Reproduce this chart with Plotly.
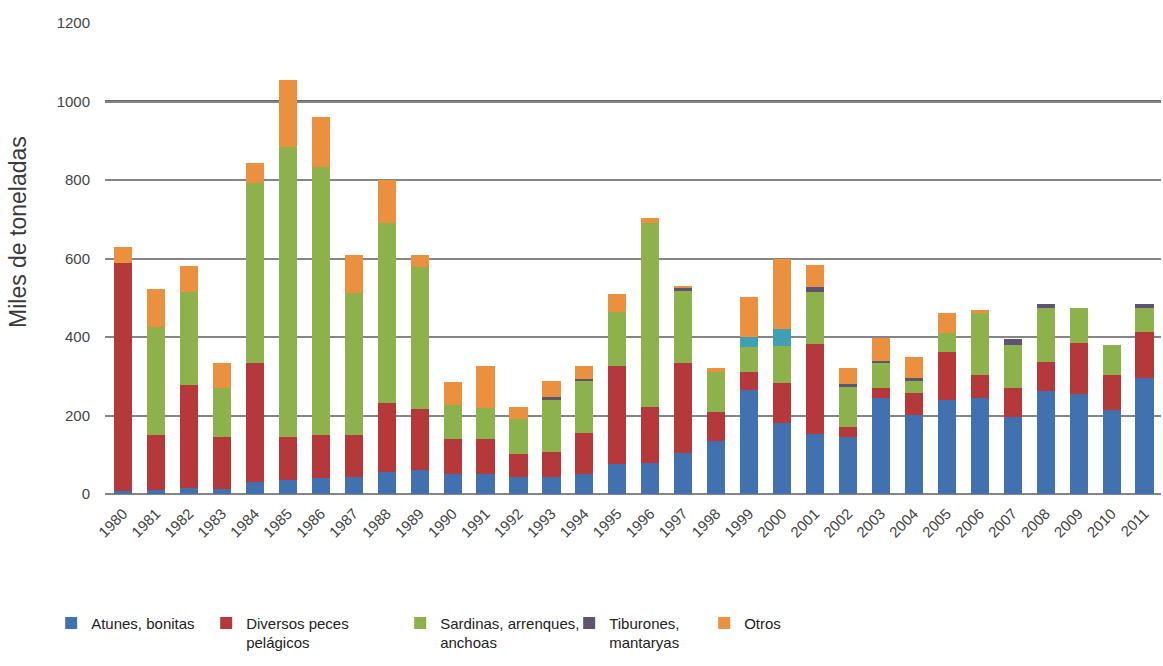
import plotly.graph_objects as go

years = [str(y) for y in range(1980, 2012)]

atunes = [8, 10, 15, 12, 30, 35, 40, 43, 55, 60,
          51, 51, 43, 43, 51, 77, 78, 105, 135, 265,
          182, 153, 145, 244, 201, 240, 244, 197, 262, 255, 214, 295]
diversos = [580, 140, 263, 134, 305, 111, 110, 107, 177, 156,
            89, 89, 59, 65, 104, 250, 144, 228, 75, 47,
            100, 229, 25, 25, 56, 122, 59, 72, 75, 130, 89, 118]
sardinas = [0, 275, 237, 123, 457, 739, 684, 361, 458, 363,
            88, 78, 90, 134, 133, 137, 468, 185, 102, 63,
            94, 133, 103, 65, 33, 48, 159, 111, 137, 89, 77, 61]
tiburones = [0, 0, 0, 0, 0, 0, 0, 0, 0, 0,
             0, 0, 0, 4, 4, 0, 0, 7, 0, 0,
             0, 12, 8, 6, 5, 0, 0, 15, 10, 0, 0, 10]
sin_clasificar = [0] * 19 + [25, 44] + [0] * 11
otros = [41, 97, 66, 64, 52, 170, 127, 98, 110, 30,
         58, 107, 30, 41, 35, 46, 13, 5, 9, 102,
         180, 56, 41, 57, 54, 50, 7, 0, 0, 0, 0, 0]

series = [
    ("Atunes, bonitas", atunes, "#4271B0", True, 110),
    ("Diversos peces<br>pelágicos", diversos, "#B5393B", True, 149),
    ("Sardinas, arrenques,<br>anchoas", sardinas, "#8DB24B", True, 124),
    ("Tiburones,<br>mantaryas", tiburones, "#5E5470", True, 90),
    ("Sin clasificar", sin_clasificar, "#3FA0B4", False, 10),
    ("Otros", otros, "#EB903E", True, 80),
]

FONT = "Liberation Sans, Arial, sans-serif"

fig = go.Figure()
for name, vals, color, show, lw in series:
    fig.add_trace(go.Bar(
        x=years, y=vals, name=name, marker_color=color,
        marker_line_width=0, showlegend=show, legendwidth=lw,
    ))

fig.update_layout(
    barmode="stack",
    bargap=0.45,
    width=1163, height=666,
    paper_bgcolor="white", plot_bgcolor="white",
    margin=dict(l=105, r=2, t=23, b=172),
    font=dict(family=FONT, color="#333333"),
    legend=dict(
        orientation="h", xref="container", yref="container",
        x=0.044, y=0.089, xanchor="left", yanchor="top",
        valign="top", font=dict(size=15, color="#222222", family=FONT),
        itemwidth=30, traceorder="normal",
    ),
    annotations=[dict(
        text="Miles de toneladas", textangle=-90, showarrow=False,
        xref="paper", yref="paper", x=(18 - 105) / 1056, y=(494 - 232) / 471,
        xanchor="center", yanchor="middle",
        font=dict(size=23, color="#3a3a3a", family=FONT),
    )],
)
fig.update_yaxes(
    range=[0, 1200], dtick=200, showgrid=True, gridcolor="#858585",
    gridwidth=2, zeroline=True, zerolinecolor="#858585", zerolinewidth=2,
    tickfont=dict(size=15, color="#444444", family=FONT),
    ticklabelstandoff=14,
)
fig.update_xaxes(
    tickangle=-45, tickfont=dict(size=15, color="#444444", family=FONT),
    showline=False, range=[-0.55, 31.5], ticklabelstandoff=7,
)
fig.add_shape(type="line", xref="paper", yref="y", x0=0, x1=1, y0=1000, y1=1000,
              line=dict(color="#6a6a6a", width=3), layer="below")

fig.write_html("out.html")
